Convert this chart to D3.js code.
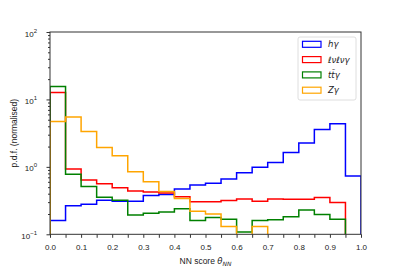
<!DOCTYPE html>
<html>
<head>
<meta charset="utf-8">
<script src="https://cdn.jsdelivr.net/npm/d3@7"></script>
<style>
  body { margin: 0; background: #fff; }
  svg { display: block; font-family: "Liberation Sans", Arial, sans-serif; }
  .axis path, .axis line { stroke: #333; }
  .axis text { fill: #222; font-size: 8px; }
</style>
</head>
<body>
<div id="chart"></div>
<script>
// bin left edges of the NN score histogram (width 0.05)
const binEdges = [0.0, 0.05, 0.1, 0.15, 0.2, 0.25, 0.3, 0.35, 0.4, 0.45,
                  0.5, 0.55, 0.6, 0.65, 0.7, 0.75, 0.8, 0.85, 0.9, 0.95, 1.0];

const seriesNames = ['hγ', 'ℓνℓνγ', 'tt̄γ', 'Zγ'];

const hGamma = [0.16, 0.266, 0.279, 0.32, 0.31, 0.31, 0.375, 0.39, 0.47, 0.54,
                0.57, 0.66, 0.82, 0.99, 1.16, 1.63, 2.25, 3.58, 4.35, 0.73];
const llvvGamma = [12.7, 0.93, 0.64, 0.56, 0.49, 0.44, 0.425, 0.41, 0.36, 0.305,
                   0.305, 0.316, 0.335, 0.31, 0.335, 0.33, 0.33, 0.35, 0.295, 0];
const ttGamma = [15.6, 0.78, 0.51, 0.355, 0.32, 0.194, 0.205, 0.215, 0.24, 0.16,
                 0.177, 0.167, 0.108, 0.16, 0.165, 0.182, 0.23, 0.197, 0.167, 0];
const zGamma = [4.7, 5.5, 3.35, 1.94, 1.46, 0.85, 0.6, 0.43, 0.34, 0.22,
                0.2, 0.13, 0, 0.13, 0, 0, 0, 0, 0, 0];

const xTicks = [0.0, 0.1, 0.2, 0.3, 0.4, 0.5, 0.6, 0.7, 0.8, 0.9, 1.0];
const yTicks = [0.1, 1, 10, 100];
const yExps = ['−1', '0', '1', '2'];

const colors = ['#0000ff', '#ff0000', '#008000', '#ffa500'];
const series = [hGamma, llvvGamma, ttGamma, zGamma];

const width = 401;
const height = 268;
const plotL = 50, plotR = 361, plotT = 32, plotB = 234.3;

const svg = d3.select('#chart')
    .append('svg')
    .attr('width', width)
    .attr('height', height);

const xScale = d3.scaleLinear().domain([0, 1]).range([plotL, plotR]);
const yScale = d3.scaleLog().domain([0.1, 100]).range([plotB, plotT]);

svg.append('clipPath')
    .attr('id', 'plot-clip')
    .append('rect')
    .attr('x', plotL)
    .attr('y', plotT)
    .attr('width', plotR - plotL)
    .attr('height', plotB - plotT);

// step outline like matplotlib histtype='step'
const yVal = (v) => v > 0 ? yScale(v) : plotB + 5;
function stepPoints(vals) {
    const pts = [[xScale(binEdges[0]), plotB + 5]];
    vals.forEach((v, i) => {
        pts.push([xScale(binEdges[i]), yVal(v)]);
        pts.push([xScale(binEdges[i + 1]), yVal(v)]);
    });
    pts.push([xScale(binEdges[binEdges.length - 1]), plotB + 5]);
    return pts;
}

const line = d3.line();
svg.append('g')
    .attr('clip-path', 'url(#plot-clip)')
    .selectAll('path')
    .data(series)
    .enter()
    .append('path')
    .attr('d', (d) => line(stepPoints(d)))
    .attr('fill', 'none')
    .attr('stroke', (d, i) => colors[i])
    .attr('stroke-width', 1.5)
    .attr('stroke-linejoin', 'miter');

// x axis: major + minor ticks
const xMinor = binEdges.filter((e) => !xTicks.some((t) => Math.abs(t - e) < 1e-9));
svg.append('g')
    .attr('class', 'axis')
    .attr('transform', 'translate(0,' + plotB + ')')
    .call(d3.axisBottom(xScale).tickValues(xMinor).tickSize(3.5).tickFormat(''))
    .call((g) => g.select('.domain').remove());

svg.append('g')
    .attr('class', 'axis')
    .attr('transform', 'translate(0,' + plotB + ')')
    .call(d3.axisBottom(xScale).tickValues(xTicks).tickSize(3.5).tickPadding(6.5)
        .tickFormat(d3.format('.1f')))
    .call((g) => g.select('.domain').remove());

// y axis: log ticks
const yMinor = [];
[0.1, 1, 10].forEach((dec) => {
    [2, 3, 4, 5, 6, 7, 8, 9].forEach((m) => yMinor.push(dec * m));
});
svg.append('g')
    .attr('class', 'axis')
    .attr('transform', 'translate(' + plotL + ',0)')
    .call(d3.axisLeft(yScale).tickValues(yMinor).tickSize(2).tickFormat(''))
    .call((g) => g.select('.domain').remove());

const yAxisG = svg.append('g')
    .attr('class', 'axis')
    .attr('transform', 'translate(' + plotL + ',0)')
    .call(d3.axisLeft(yScale).tickValues(yTicks).tickSize(3.5).tickPadding(9.5).tickFormat(''))
    .call((g) => g.select('.domain').remove());

yAxisG.selectAll('.tick text')
    .attr('dy', '0.5em')
    .each(function (d, i) {
        const t = d3.select(this);
        t.append('tspan').text('10');
        t.append('tspan').attr('dy', '-4').attr('font-size', '6px').text(yExps[i]);
    });

// frame
svg.append('rect')
    .attr('x', plotL)
    .attr('y', plotT)
    .attr('width', plotR - plotL)
    .attr('height', plotB - plotT)
    .attr('fill', 'none')
    .attr('stroke', '#333')
    .attr('stroke-width', 1);

// axis labels
const xLabel = svg.append('text')
    .attr('x', (plotL + plotR) / 2)
    .attr('y', 264)
    .attr('text-anchor', 'middle')
    .attr('font-size', '8.5px')
    .attr('fill', '#222');
xLabel.append('tspan').text('NN score ');
xLabel.append('tspan').attr('font-style', 'italic').attr('font-family', 'DejaVu Sans').text('θ');
xLabel.append('tspan').attr('font-style', 'italic').attr('font-family', 'DejaVu Sans')
    .attr('font-size', '6px').attr('dy', 2).text('NN');

svg.append('text')
    .attr('transform', 'translate(17,' + (plotT + plotB) / 2 + ') rotate(-90)')
    .attr('text-anchor', 'middle')
    .attr('font-size', '8.5px')
    .attr('fill', '#222')
    .text('p.d.f. (normalised)');

// legend
const legend = svg.append('g').attr('transform', 'translate(298,37)');
legend.append('rect')
    .attr('width', 58)
    .attr('height', 63)
    .attr('rx', 2)
    .attr('fill', '#fff')
    .attr('fill-opacity', 0.8)
    .attr('stroke', '#d6d6d6')
    .attr('stroke-width', 0.8);

const items = legend.selectAll('g.item')
    .data(seriesNames)
    .enter()
    .append('g')
    .attr('class', 'item')
    .attr('transform', (d, i) => 'translate(0,' + (7.3 + i * 15.3) + ')');

items.append('rect')
    .attr('x', 4.5)
    .attr('y', -3)
    .attr('width', 18.5)
    .attr('height', 6)
    .attr('fill', 'none')
    .attr('stroke', (d, i) => colors[i])
    .attr('stroke-width', 1.2);

items.append('text')
    .attr('x', 30)
    .attr('y', 3)
    .attr('font-family', 'DejaVu Sans')
    .attr('font-style', 'italic')
    .attr('font-size', '8.5px')
    .attr('fill', '#222')
    .text((d) => d);
</script>
</body>
</html>
